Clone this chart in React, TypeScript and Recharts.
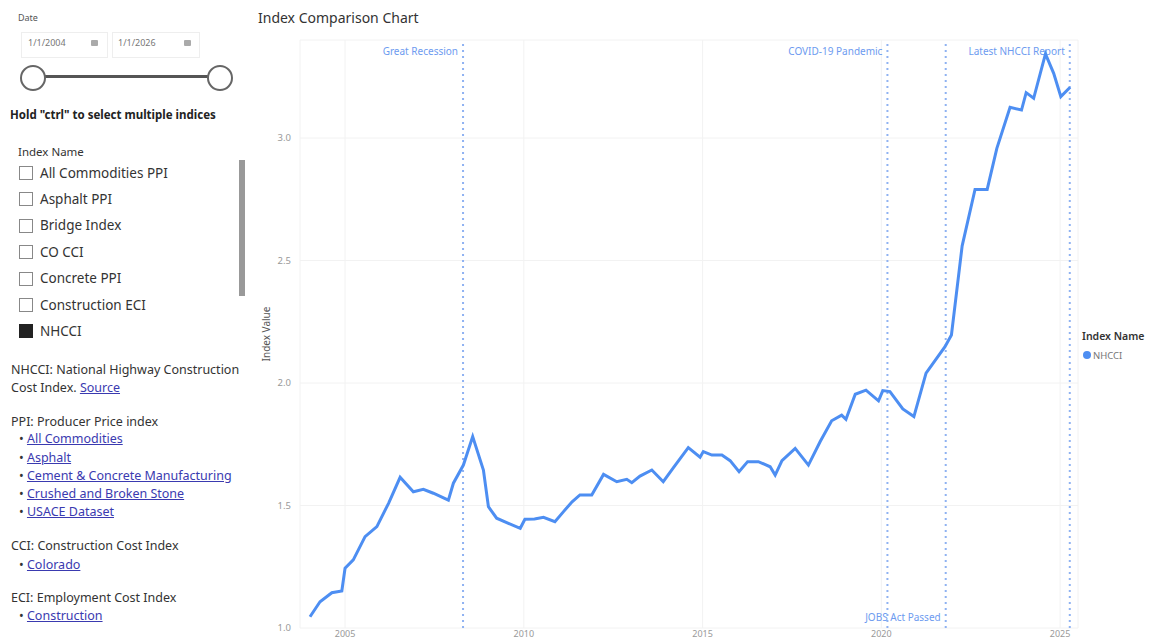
import React from 'react';
import { LineChart, Line, XAxis, YAxis, CartesianGrid, ReferenceLine, Label } from 'recharts';

// ---- data ----
const years: number[] = [
  2004.02, 2004.3, 2004.63, 2004.91, 2005.0, 2005.23, 2005.56, 2005.89, 2006.22, 2006.54,
  2006.91, 2007.19, 2007.47, 2007.89, 2008.03, 2008.31, 2008.57, 2008.87, 2009.01, 2009.24,
  2009.57, 2009.9, 2010.03, 2010.3, 2010.55, 2010.87, 2011.11, 2011.35, 2011.57, 2011.9,
  2012.23, 2012.6, 2012.88, 2013.02, 2013.25, 2013.58, 2013.9, 2014.19, 2014.6, 2014.93,
  2015.02, 2015.26, 2015.54, 2015.77, 2016.02, 2016.26, 2016.56, 2016.89, 2017.03, 2017.22,
  2017.59, 2017.96, 2018.29, 2018.61, 2018.89, 2019.01, 2019.27, 2019.57, 2019.92, 2020.04,
  2020.24, 2020.6, 2020.91, 2021.25, 2021.78, 2021.96, 2022.26, 2022.62, 2022.96, 2023.23,
  2023.6, 2023.92, 2024.05, 2024.26, 2024.59, 2024.82, 2025.02, 2025.28,
];
const nhcci: number[] = [
  1.046, 1.107, 1.144, 1.151, 1.244, 1.278, 1.373, 1.414, 1.51, 1.615,
  1.556, 1.566, 1.55, 1.522, 1.591, 1.665, 1.781, 1.645, 1.495, 1.448,
  1.427, 1.407, 1.444, 1.445, 1.452, 1.434, 1.475, 1.515, 1.543, 1.543,
  1.627, 1.597, 1.607, 1.593, 1.62, 1.645, 1.597, 1.656, 1.736, 1.697,
  1.72, 1.706, 1.706, 1.683, 1.638, 1.679, 1.679, 1.658, 1.624, 1.683,
  1.733, 1.665, 1.761, 1.846, 1.869, 1.852, 1.954, 1.971, 1.927, 1.969,
  1.965, 1.894, 1.863, 2.04, 2.148, 2.196, 2.56, 2.79, 2.79, 2.958,
  3.125, 3.114, 3.185, 3.162, 3.343, 3.264, 3.169, 3.207,
];
const xTicks: number[] = [2005, 2010, 2015, 2020, 2025];
const yTicks: number[] = [1.0, 1.5, 2.0, 2.5, 3.0];
const eventNames: string[] = ['Great Recession', 'COVID-19 Pandemic', 'JOBS Act Passed', 'Latest NHCCI Report'];
const eventYears: number[] = [2008.3, 2020.17, 2021.8, 2025.27];
const eventAtBottom: boolean[] = [false, false, true, false];

const indexNames: string[] = ['All Commodities PPI', 'Asphalt PPI', 'Bridge Index', 'CO CCI', 'Concrete PPI', 'Construction ECI', 'NHCCI'];
const ppiLinks: string[] = ['All Commodities', 'Asphalt', 'Cement & Concrete Manufacturing', 'Crushed and Broken Stone', 'USACE Dataset'];

const data = years.map((y, i) => ({ year: y, value: nhcci[i] }));

const FONT = '"Noto Sans", "Open Sans", sans-serif';
const LINE = '#4d8ef2';
const REF = '#8fb2f2';
const REFTXT = '#6d9bf0';
const DARK = '#252423';
const LINK = '#3a3ab0';

const T: React.FC<{ x: number; y: number; size: number; color?: string; weight?: number; children: React.ReactNode; style?: React.CSSProperties }> = ({ x, y, size, color = DARK, weight = 400, children, style }) => (
  <div style={{ position: 'absolute', left: x, top: y - size * 0.62, fontSize: size, lineHeight: 1.2, color, fontWeight: weight, whiteSpace: 'nowrap', fontFamily: FONT, ...style }}>{children}</div>
);

const EventLabel = (props: any) => {
  const { viewBox, value, bottom } = props;
  const x = viewBox.x - 5;
  const y = bottom ? viewBox.y + viewBox.height - 7 : viewBox.y + 15;
  return (
    <text x={x} y={y} textAnchor="end" fontSize={10} fill={REFTXT} fontFamily={FONT}>{value}</text>
  );
};

export default function App() {
  return (
    <div style={{ position: 'absolute', left: 0, top: 0, width: 1153, height: 642, background: '#fff', overflow: 'hidden', fontFamily: FONT }}>
      {/* Left panel: date slicer */}
      <T x={18} y={19} size={9} color="#555">Date</T>
      <div style={{ position: 'absolute', left: 21, top: 32, width: 85, height: 24, border: '1px solid #eee' }} />
      <div style={{ position: 'absolute', left: 112, top: 32, width: 86, height: 24, border: '1px solid #eee' }} />
      <T x={28} y={44} size={9} color="#777">1/1/2004</T>
      <T x={118} y={44} size={9} color="#777">1/1/2026</T>
      <div style={{ position: 'absolute', left: 91, top: 40, width: 7, height: 6, background: '#aaa', borderRadius: 1 }} />
      <div style={{ position: 'absolute', left: 184, top: 40, width: 7, height: 6, background: '#aaa', borderRadius: 1 }} />
      <div style={{ position: 'absolute', left: 33, top: 75, width: 187, height: 3, background: '#555' }} />
      <div style={{ position: 'absolute', left: 20, top: 65, width: 22, height: 22, borderRadius: 13, border: '2px solid #666', background: '#fff' }} />
      <div style={{ position: 'absolute', left: 207, top: 65, width: 22, height: 22, borderRadius: 13, border: '2px solid #666', background: '#fff' }} />
      <T x={10} y={115} size={11.5} weight={700} color="#222">Hold "ctrl" to select multiple indices</T>

      {/* Index Name slicer */}
      <T x={18} y={152} size={11.5} color="#333">Index Name</T>
      {indexNames.map((n, i) => {
        const cy = 173 + i * 26.4;
        const sel = n === 'NHCCI';
        return (
          <React.Fragment key={n}>
            <div style={{ position: 'absolute', left: 19, top: cy - 7, width: 12, height: 12, border: sel ? '1px solid #222' : '1px solid #888', background: sel ? '#222' : '#fff' }} />
            <T x={40} y={cy} size={13.5} color="#333">{n}</T>
          </React.Fragment>
        );
      })}
      <div style={{ position: 'absolute', left: 239, top: 160, width: 6, height: 136, background: '#999' }} />

      {/* Glossary */}
      <T x={11} y={370} size={12.5} color="#333">NHCCI: National Highway Construction</T>
      <T x={11} y={388} size={12.5} color="#333">Cost Index. <span style={{ color: LINK, textDecoration: 'underline' }}>Source</span></T>
      <T x={11} y={422} size={12.5} color="#333">PPI: Producer Price index</T>
      {ppiLinks.map((l, i) => (
        <T key={l} x={19} y={439 + i * 18.3} size={12.5} color="#333">• <span style={{ color: LINK, textDecoration: 'underline' }}>{l}</span></T>
      ))}
      <T x={11} y={546} size={12.5} color="#333">CCI: Construction Cost Index</T>
      <T x={19} y={565} size={12.5} color="#333">• <span style={{ color: LINK, textDecoration: 'underline' }}>Colorado</span></T>
      <T x={11} y={598} size={12.5} color="#333">ECI: Employment Cost Index</T>
      <T x={19} y={616} size={12.5} color="#333">• <span style={{ color: LINK, textDecoration: 'underline' }}>Construction</span></T>

      {/* Chart title */}
      <T x={258} y={19} size={14} color="#333">Index Comparison Chart</T>

      {/* Chart */}
      <div style={{ position: 'absolute', left: 250, top: 0 }}>
        <LineChart width={903} height={642} data={data} margin={{ top: 40, right: 75, bottom: 0, left: 0 }}>
          <CartesianGrid stroke="#f2f2f2" vertical={true} horizontal={true} />
          <XAxis
            dataKey="year"
            type="number"
            domain={[2003.74, 2025.5]}
            ticks={xTicks}
            allowDataOverflow
            height={14}
            axisLine={false}
            tickLine={false}
            tickSize={0}
            tickMargin={3}
            tick={{ fontSize: 9, fill: '#999', fontFamily: FONT }}
          />
          <YAxis
            type="number"
            domain={[1, 3.4]}
            ticks={yTicks}
            allowDataOverflow
            width={50}
            axisLine={false}
            tickLine={false}
            tickSize={0}
            tickMargin={9}
            tickFormatter={(v: number) => v.toFixed(1)}
            tick={{ fontSize: 9.5, fill: '#999', fontFamily: FONT }}
          >
            <Label value="Index Value" angle={-90} position="insideLeft" offset={16} style={{ fontSize: 10, fill: '#555', fontFamily: FONT, textAnchor: 'middle' }} />
          </YAxis>
          {eventYears.map((ey, i) => (
            <ReferenceLine
              key={eventNames[i]}
              x={ey}
              stroke={REF}
              strokeWidth={2}
              strokeDasharray="2 4"
              label={<EventLabel value={eventNames[i]} bottom={eventAtBottom[i]} />}
            />
          ))}
          <Line type="linear" dataKey="value" stroke={LINE} strokeWidth={3} dot={false} isAnimationActive={false} />
        </LineChart>
      </div>

      {/* Legend */}
      <T x={1082} y={337} size={10.5} color="#333" weight={600}>Index Name</T>
      <div style={{ position: 'absolute', left: 1083, top: 351, width: 8, height: 8, borderRadius: 4, background: LINE }} />
      <T x={1093} y={356} size={9.5} color="#777">NHCCI</T>
    </div>
  );
}
